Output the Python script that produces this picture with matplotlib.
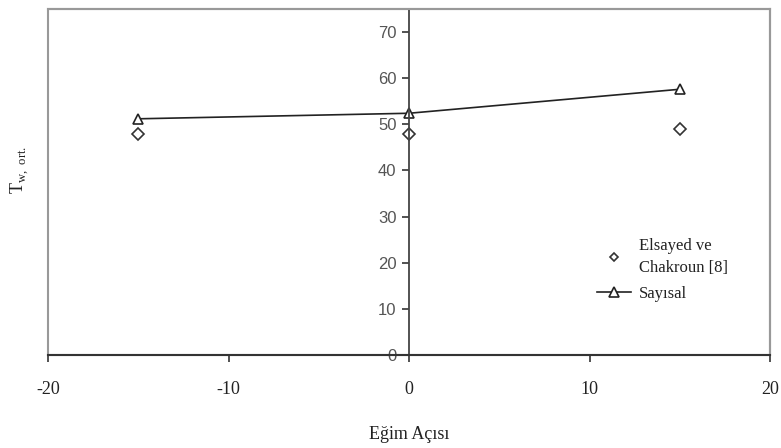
import matplotlib
matplotlib.use("Agg")
import matplotlib.pyplot as plt
from matplotlib.patches import Rectangle

plt.rcParams["axes.unicode_minus"] = False

# veriler
egim = [-15, 0, 15]
elsayed = [48.0, 48.0, 49.0]
sayisal = [51.2, 52.4, 57.6]

x_ticks = [-20, -10, 0, 10, 20]
y_ticks = [0, 10, 20, 30, 40, 50, 60, 70]

fig = plt.figure(figsize=(7.81, 4.48), dpi=100)
ax = fig.add_axes([48 / 781, 93 / 448, 722 / 781, 346 / 448])

ax.plot(egim, elsayed, linestyle="none", marker="D", markersize=6,
        markerfacecolor="white", markeredgecolor="#333333", markeredgewidth=1.2,
        label="Elsayed ve\nChakroun [8]")
ax.plot(egim, sayisal, color="#222222", linewidth=1.2, marker="^", markersize=7,
        markerfacecolor="white", markeredgecolor="#222222", markeredgewidth=1.2,
        label="Sayısal")

ax.set_xlim(-20, 20)
ax.set_ylim(0, 75)

# eksenler: y ekseni x=0'da, x ekseni y=0'da
ax.spines["left"].set_position(("data", 0))
ax.spines["left"].set_color("#444444")
ax.spines["left"].set_linewidth(1.3)
ax.spines["bottom"].set_color("#333333")
ax.spines["bottom"].set_linewidth(1.5)
for s in ["top", "right"]:
    ax.spines[s].set_color("#999999")
    ax.spines[s].set_linewidth(1.5)
ax.add_patch(Rectangle((0, 0), 1, 1, transform=ax.transAxes, fill=False,
                       edgecolor="#999999", linewidth=1.5, clip_on=False, zorder=0))

ax.set_xticks(x_ticks)
ax.set_yticks(y_ticks)
ax.tick_params(axis="x", direction="out", length=5, width=1.2, colors="#333333",
               pad=14)
ax.tick_params(axis="y", direction="out", length=5, width=1.2, colors="#333333",
               pad=4)
for lbl in ax.get_xticklabels():
    lbl.set_fontfamily("Liberation Serif")
    lbl.set_fontsize(13)
    lbl.set_color("#222222")
for lbl in ax.get_yticklabels():
    lbl.set_fontfamily("Liberation Sans")
    lbl.set_fontsize(12)
    lbl.set_color("#555555")

ax.set_xlabel("Eğim Açısı", fontfamily="Liberation Serif", fontsize=13,
              color="#222222", labelpad=20)
fig.text(20 / 781, 1 - 170 / 448, r"T$_{\mathregular{w,\ ort.}}$", rotation=90,
         fontfamily="Liberation Serif", fontsize=13, color="#222222",
         ha="center", va="center")

leg = ax.legend(loc="upper left", bbox_to_anchor=(0.74, 0.382), frameon=False,
                prop={"family": "Liberation Serif", "size": 12},
                handlelength=2.0, labelspacing=0.6, handletextpad=0.5)
leg.legend_handles[0].set_markersize(4)
for t in leg.get_texts():
    t.set_color("#222222")
    t.set_linespacing(1.5)

fig.savefig("out.png", dpi=100)
